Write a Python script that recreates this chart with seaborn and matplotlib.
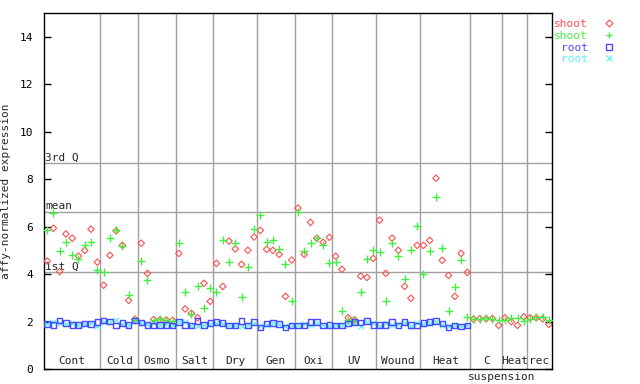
import numpy as np
import pandas as pd
import matplotlib
matplotlib.use("Agg")
import matplotlib.pyplot as plt
import seaborn as sns
from matplotlib.lines import Line2D

# ======================================================
# Data
# ======================================================

groups = ["Cont", "Cold", "Osmo", "Salt", "Dry", "Gen", "Oxi", "UV",
          "Wound", "Heat", "C", "Heat", "rec"]
group_sizes = [9, 6, 6, 6, 7, 6, 6, 7, 7, 8, 5, 4, 4]

shoot_rep1 = [4.55, 5.93, 4.10, 5.69, 5.51, 4.76, 5.00, 5.89, 4.50,
              3.53, 4.79, 5.82, 5.21, 2.89, 2.10,
              5.30, 4.03, 2.09, 2.07, 2.07, 2.05,
              4.87, 2.53, 2.35, 2.16, 3.61, 2.85,
              4.45, 3.48, 5.39, 5.06, 4.41, 5.00, 5.56,
              5.84, 5.04, 5.00, 4.83, 3.06, 4.59,
              6.78, 4.83, 6.18, 5.51, 5.34, 5.55,
              4.75, 4.20, 2.16, 2.08, 3.91, 3.86, 4.66,
              6.27, 4.03, 5.51, 5.00, 3.48, 2.98, 5.21,
              5.21, 5.42, 8.04, 4.58, 3.94, 3.06, 4.87, 4.07,
              2.10, 2.12, 2.12, 2.13, 1.84,
              2.16, 1.99, 1.84, 2.20,
              2.16, 2.16, 2.11, 1.88]

shoot_rep2 = [5.84, 6.56, 4.97, 5.34, 4.79, 4.62, 5.21, 5.34, 4.17,
              4.07, 5.52, 5.84, 5.17, 3.12, 2.08,
              4.55, 3.75, 2.05, 2.10, 2.07, 2.03,
              5.30, 3.23, 2.30, 3.48, 2.58, 3.40,
              3.23, 5.42, 4.51, 5.30, 3.02, 4.29, 5.90,
              6.47, 5.34, 5.42, 5.04, 4.41, 2.85,
              6.60, 4.96, 5.30, 5.53, 5.21, 4.45,
              4.51, 2.44, 2.08, 2.05, 3.23, 4.62, 5.00,
              4.92, 2.85, 5.30, 4.75, 3.78, 5.00, 6.01,
              3.99, 4.97, 7.23, 5.08, 2.44, 3.44, 4.58, 2.19,
              2.12, 2.12, 2.13, 2.12, 2.05,
              2.06, 2.14, 2.13, 2.04,
              2.11, 2.17, 2.20, 2.05]

root_rep1 = [1.90, 1.86, 2.04, 1.94, 1.86, 1.86, 1.91, 1.90, 1.98,
             2.04, 2.00, 1.83, 1.94, 1.86, 2.04,
             1.97, 1.86, 1.83, 1.86, 1.86, 1.83,
             1.98, 1.86, 1.83, 2.03, 1.86, 1.94,
             1.98, 1.94, 1.83, 1.83, 2.03, 1.83, 1.98,
             1.74, 1.91, 1.94, 1.90, 1.74, 1.83,
             1.83, 1.83, 1.98, 1.98, 1.83, 1.86,
             1.83, 1.83, 1.91, 1.98, 1.95, 2.03, 1.86,
             1.86, 1.86, 1.98, 1.83, 1.98, 1.86, 1.83,
             1.94, 1.98, 2.03, 1.91, 1.74, 1.83, 1.80, 1.83]

root_rep2 = [1.88, 1.98, 1.95, 1.90, 1.92, 1.84, 1.88, 1.92, 1.83,
             1.98, 1.96, 2.07, 1.90, 1.84, 2.06,
             1.93, 1.90, 1.95, 1.85, 1.88, 1.87,
             1.96, 1.97, 1.83, 1.83, 1.84, 1.90,
             1.95, 1.90, 1.86, 1.85, 1.82, 1.86, 1.95,
             1.80, 1.85, 1.92, 1.88, 1.80, 1.86,
             1.86, 1.90, 1.84, 1.95, 1.86, 1.83,
             1.86, 1.84, 1.95, 1.94, 1.83, 2.00, 1.95,
             1.83, 1.95, 1.84, 1.90, 1.93, 1.83, 1.95,
             1.88, 1.95, 1.98, 1.85, 1.80, 1.86, 1.82, 1.85]

quartiles = {"3rd Q": 8.69, "mean": 6.62, "1st Q": 4.09}

# ======================================================
# Style
# ======================================================

sns.set_style("white")
plt.rcParams["font.family"] = ["DejaVu Sans Mono"]
plt.rcParams["font.size"] = 8

red, green, blue, cyan = "#ff4f4f", "#40f040", "#4a4aff", "#5cf5f5"
grey = "#a0a0a0"

n = len(shoot_rep1)
x = np.arange(n) + 0.5
xr = x[:len(root_rep1)]

fig = plt.figure(figsize=(6.4, 3.84), dpi=100)
ax = fig.add_axes([44 / 640, 1 - 369 / 384, 508 / 640, 356 / 384])

# ======================================================
# Reference lines
# ======================================================

bounds = np.cumsum(group_sizes)[:-1]
for b in bounds:
    ax.axvline(b, color=grey, lw=1, zorder=0)
for name, val in quartiles.items():
    ax.axhline(val, color=grey, lw=1, zorder=0)
    ax.text(0.15, val + 0.02, name, ha="left", va="bottom", fontsize=8)

# ======================================================
# Points
# ======================================================

sns.scatterplot(x=x, y=shoot_rep1, marker="D", s=11, color=red, linewidth=0.8, ax=ax, zorder=3)
ax.collections[-1].set_facecolor("none")
ax.collections[-1].set_edgecolor(red)
sns.scatterplot(x=x, y=shoot_rep2, marker="+", s=30, color=green, linewidth=1.0, ax=ax, zorder=3)
sns.scatterplot(x=xr, y=root_rep1, marker="s", s=15, color=blue, linewidth=1.0, ax=ax, zorder=3)
ax.collections[-1].set_facecolor("none")
ax.collections[-1].set_edgecolor(blue)
sns.scatterplot(x=xr, y=root_rep2, marker="x", s=16, color=cyan, linewidth=0.9, ax=ax, zorder=2)

# ======================================================
# Group labels
# ======================================================

starts = np.concatenate([[0], bounds])
for g, s0, size in zip(groups, starts, group_sizes):
    ax.text(s0 + size / 2, 0.12, g, ha="center", va="bottom", fontsize=8)
ax.text(starts[10] + 5.0, -0.12, "suspension", ha="center", va="top",
        fontsize=8, clip_on=False)

# ======================================================
# Axes
# ======================================================

ax.set_xlim(0, n)
ax.set_ylim(0, 15)
ax.set_xticks([])
ax.set_yticks(np.arange(0, 15, 2))
ax.tick_params(axis="y", direction="in", length=5, width=1, left=True,
               right=True, pad=8, labelsize=8, colors="black")
for sp in ax.spines.values():
    sp.set_color("black")
    sp.set_linewidth(1)
ax.set_ylabel("affy-normalized expression", fontsize=8, labelpad=6)
ax.set_xlabel("")

# ======================================================
# Legend
# ======================================================

handles = [
    Line2D([], [], ls="", marker="D", ms=3.5, mfc="none", mec=red, mew=0.8),
    Line2D([], [], ls="", marker="+", ms=5, mec=green, mew=1.0),
    Line2D([], [], ls="", marker="s", ms=4, mfc="none", mec=blue, mew=1.0),
    Line2D([], [], ls="", marker="x", ms=4, mec=cyan, mew=0.9),
]
labels = ["shoot", "shoot", "root", "root"]
leg = ax.legend(handles, labels, loc="upper left", bbox_to_anchor=(0.995, 0.995),
                frameon=False, markerfirst=False, handlelength=1.0,
                handletextpad=1.4, labelspacing=0.15, borderaxespad=0, fontsize=8)
for t, c in zip(leg.get_texts(), [red, green, blue, cyan]):
    t.set_color(c)

fig.savefig("out.png", dpi=100)
